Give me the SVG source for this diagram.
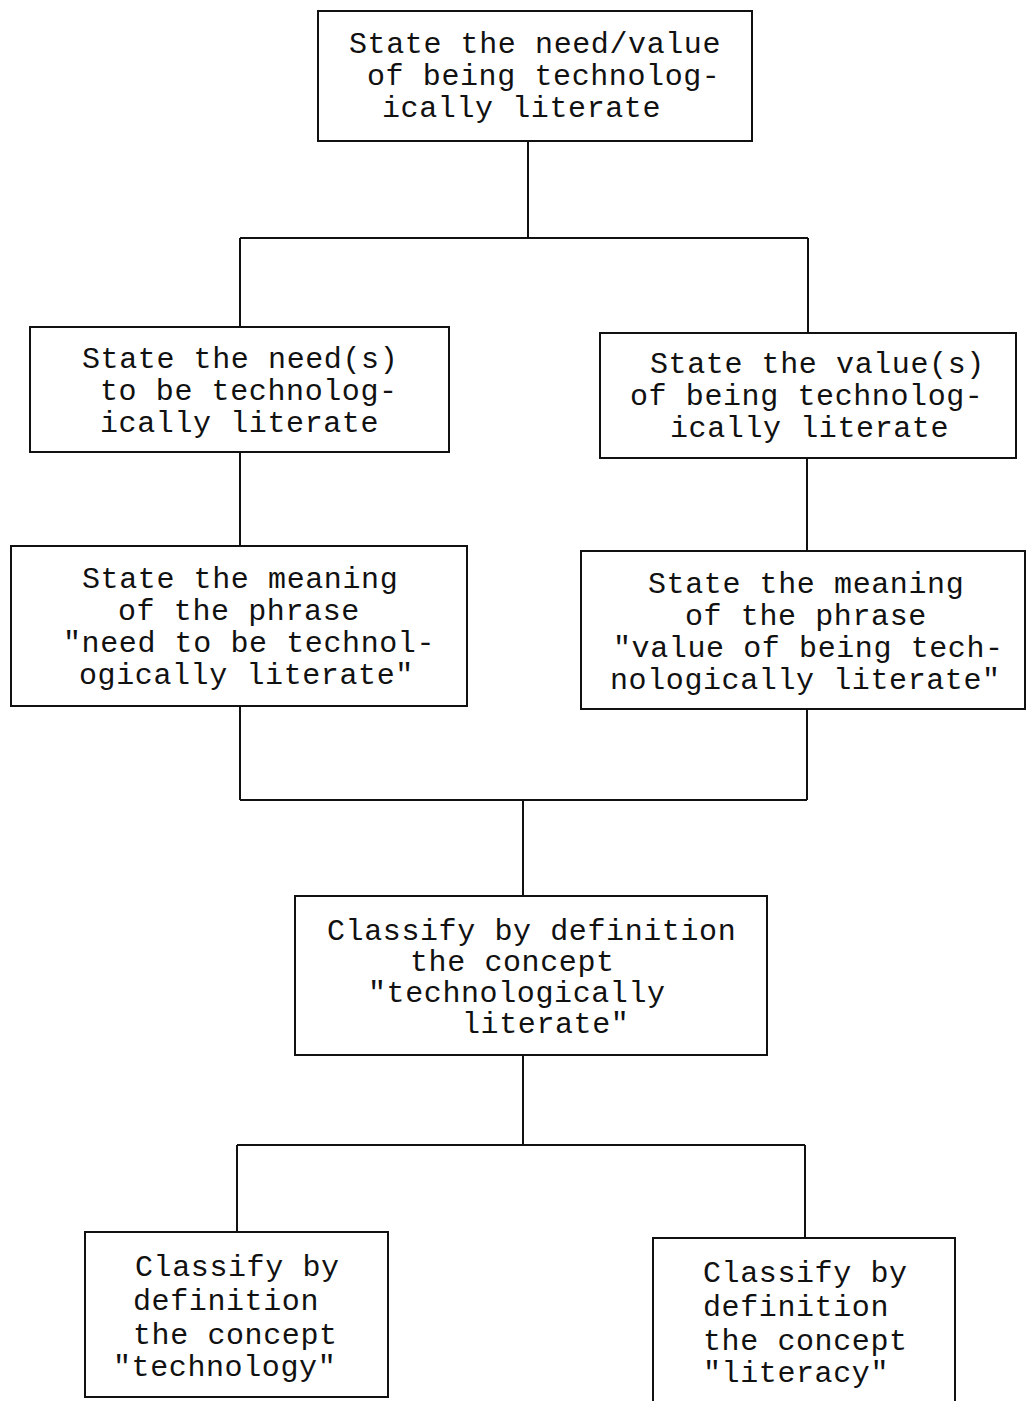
<svg xmlns="http://www.w3.org/2000/svg" width="1026" height="1401" viewBox="0 0 1026 1401">
<style>
.box{fill:#fff;stroke:#111;stroke-width:2}
.c{fill:none;stroke:#111;stroke-width:2}
text{font-family:"Liberation Mono","Courier New",monospace;font-size:30px;letter-spacing:0.6px;fill:#111}
</style>
<rect width="1026" height="1401" fill="#fff"/>
<g id="connectors">
<path class="c" d="M528,141 V238 M240,238 H808 M240,238 V327 M808,238 V333"/>
<path class="c" d="M240,452 V546 M807,458 V551"/>
<path class="c" d="M240,706 V800 M807,709 V800 M240,800 H807 M523,800 V896"/>
<path class="c" d="M523,1055 V1145 M237,1145 H805 M237,1145 V1232 M805,1145 V1238"/>
</g>
<g id="n1"><rect class="box" x="318" y="11" width="434" height="130"/>
<text x="349" y="53">State the need/value</text>
<text x="367" y="85">of being technolog-</text>
<text x="382" y="117">ically literate</text></g>
<g id="n2"><rect class="box" x="30" y="327" width="419" height="125"/>
<text x="82" y="368">State the need(s)</text>
<text x="100" y="400">to be technolog-</text>
<text x="100" y="432">ically literate</text></g>
<g id="n3"><rect class="box" x="600" y="333" width="416" height="125"/>
<text x="650" y="373">State the value(s)</text>
<text x="630" y="405">of being technolog-</text>
<text x="670" y="437">ically literate</text></g>
<g id="n4"><rect class="box" x="11" y="546" width="456" height="160"/>
<text x="82" y="588">State the meaning</text>
<text x="118" y="620">of the phrase</text>
<text x="63" y="652">"need to be technol-</text>
<text x="79" y="684">ogically literate"</text></g>
<g id="n5"><rect class="box" x="581" y="551" width="444" height="158"/>
<text x="648" y="593">State the meaning</text>
<text x="685" y="625">of the phrase</text>
<text x="613" y="657">"value of being tech-</text>
<text x="610" y="689">nologically literate"</text></g>
<g id="n6"><rect class="box" x="295" y="896" width="472" height="159"/>
<text x="327" y="940">Classify by definition</text>
<text x="410" y="971">the concept</text>
<text x="368" y="1002">"technologically</text>
<text x="462" y="1033">literate"</text></g>
<g id="n7"><rect class="box" x="85" y="1232" width="303" height="165"/>
<text x="135" y="1276">Classify by</text>
<text x="133" y="1310">definition</text>
<text x="133" y="1344">the concept</text>
<text x="113" y="1376">"technology"</text></g>
<g id="n8"><rect class="box" x="653" y="1238" width="302" height="175"/>
<text x="703" y="1282">Classify by</text>
<text x="703" y="1316">definition</text>
<text x="703" y="1350">the concept</text>
<text x="703" y="1382">"literacy"</text></g>
</svg>
